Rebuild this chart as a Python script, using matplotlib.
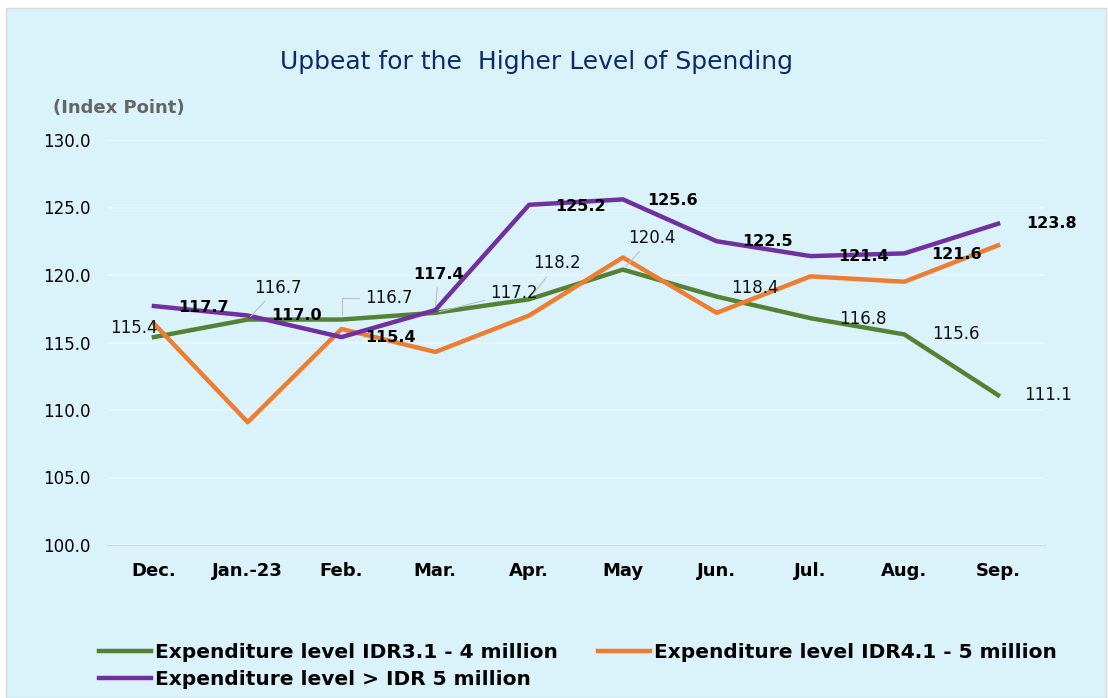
import matplotlib
matplotlib.use("Agg")
import matplotlib.pyplot as plt
from matplotlib.patches import Rectangle

months = ["Dec.", "Jan.-23", "Feb.", "Mar.", "Apr.", "May", "Jun.", "Jul.", "Aug.", "Sep."]

# index point per expenditure level
idr_3_4 = [115.4, 116.7, 116.7, 117.2, 118.2, 120.4, 118.4, 116.8, 115.6, 111.1]
idr_4_5 = [116.4, 109.1, 116.0, 114.3, 117.0, 121.3, 117.2, 119.9, 119.5, 122.2]
idr_5up = [117.7, 117.0, 115.4, 117.4, 125.2, 125.6, 122.5, 121.4, 121.6, 123.8]

names = ["Expenditure level IDR3.1 - 4 million",
         "Expenditure level IDR4.1 - 5 million",
         "Expenditure level > IDR 5 million"]

yticks = [100, 105, 110, 115, 120, 125, 130]

green = "#548235"
orange = "#ED7D31"
purple = "#7030A0"
bg = "#DAF2FA"

# label offsets (pixels) from the point
green_off = [(-20, 9), (30, 32), (47, 22), (79, 20), (28, 36), (29, 32),
             (38, 9), (52, -1), (52, 0), (50, 0)]
purple_off = [(50, -1), (49, 0), (49, 0), (3, 36), (51, -2), (50, -1),
              (51, 0), (53, 0), (52, -1), (53, 0)]
green_leader = [1, 2, 3, 4, 5]
purple_leader = [3]

fig = plt.figure(figsize=(11.08, 6.98), dpi=100)
fig.patch.set_facecolor("white")
fig.patches.append(Rectangle((6/1108, 0), 1100/1108, 690/698, transform=fig.transFigure,
                             facecolor=bg, edgecolor="#D9D9D9", lw=1, zorder=-5))

ax = fig.add_axes([107/1108, 1-545/698, (1045-107)/1108, (545-140)/698])
ax.set_facecolor(bg)
x = list(range(len(months)))

l1, = ax.plot(x, idr_3_4, color=green, lw=3.2, solid_joinstyle="round", zorder=3)
l2, = ax.plot(x, idr_4_5, color=orange, lw=3.2, solid_joinstyle="round", zorder=3)
l3, = ax.plot(x, idr_5up, color=purple, lw=3.2, solid_joinstyle="round", zorder=4)

ax.set_xlim(-0.5, 9.5)
ax.set_ylim(100, 130)
ax.set_yticks(yticks)
ax.set_yticklabels(["%.1f" % v for v in yticks], fontsize=12)
ax.set_xticks(x)
ax.set_xticklabels(months, fontsize=13, fontweight="bold")
ax.tick_params(axis="both", length=0)
ax.tick_params(axis="y", pad=12)
ax.tick_params(axis="x", pad=12)
ax.grid(axis="y", color="#EAF7FC", lw=1.2)
ax.set_axisbelow(True)
for s in ["top", "right", "left"]:
    ax.spines[s].set_visible(False)
ax.spines["bottom"].set_color("#D0D8DC")

for i, v in enumerate(idr_3_4):
    ap = None
    if i in green_leader:
        ap = dict(arrowstyle="-", color="#BFBFBF", lw=0.8, shrinkA=2, shrinkB=3)
        if i == 2:
            ap["connectionstyle"] = "angle,angleA=0,angleB=90,rad=0"
    ax.annotate("%.1f" % v, (i, v), xytext=green_off[i], textcoords="offset pixels",
                ha="center", va="center", fontsize=12, color="#111111",
                arrowprops=ap, zorder=5)

for i, v in enumerate(idr_5up):
    ap = None
    if i in purple_leader:
        ap = dict(arrowstyle="-", color="#BFBFBF", lw=0.8, shrinkA=2, shrinkB=3)
    ax.annotate("%.1f" % v, (i, v), xytext=purple_off[i], textcoords="offset pixels",
                ha="center", va="center", fontsize=11.5, fontweight="bold", color="black",
                arrowprops=ap, zorder=5)

fig.text(536/1108, 1-62/698, "Upbeat for the  Higher Level of Spending", ha="center",
         va="center", fontsize=18, color="#0B2A6B")
fig.text(53/1108, 1-108/698, "(Index Point)", ha="left", va="center", fontsize=13,
         fontweight="bold", color="#666666")

fig.legend([l1, l3, l2], [names[0], names[2], names[1]], ncol=2,
           loc="upper left", bbox_to_anchor=(99/1108, 1-643/698),
           frameon=False, handlelength=2.6, handletextpad=0.2, columnspacing=1.95,
           labelspacing=0.38, borderaxespad=0, borderpad=0,
           prop=dict(family="DejaVu Sans", weight="bold", size=14.5))

fig.savefig("out.png", dpi=100, facecolor=fig.get_facecolor())
